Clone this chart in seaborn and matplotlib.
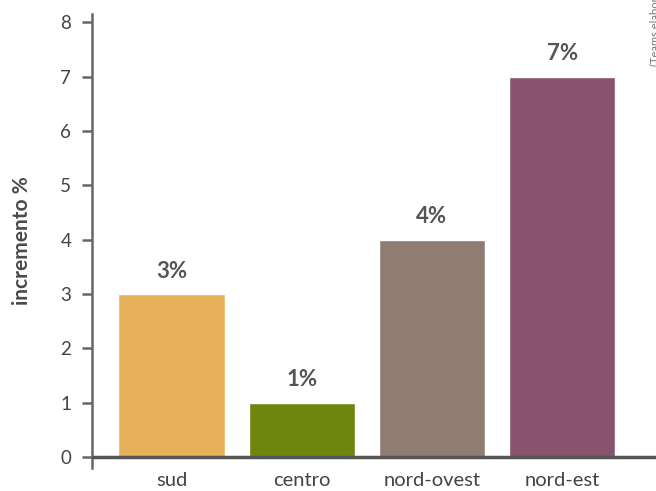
import matplotlib
matplotlib.use("Agg")
import matplotlib.pyplot as plt
import seaborn as sns
import pandas as pd

categories = ["sud", "centro", "nord-ovest", "nord-est"]
values = [3, 1, 4, 7]
labels = ["3%", "1%", "4%", "7%"]
colors = ["#E8B05A", "#6E860E", "#8F7D74", "#87536F"]
yticks = [0, 1, 2, 3, 4, 5, 6, 7, 8]

sns.set_style("white")
plt.rcParams["font.family"] = ["Lato", "DejaVu Sans"]

df = pd.DataFrame({"regione": categories, "incremento": values})

fig = plt.figure(figsize=(6.56, 4.91), dpi=100)
ax = fig.add_axes([92/656, 1 - 468/491, 1 - 92/656, (468 - 14)/491])

sns.barplot(data=df, x="regione", y="incremento", hue="regione",
            palette=colors, legend=False, width=0.815, saturation=1, ax=ax)

ax.set_xlim(-0.61, 3.72)
ax.set_ylim(-0.2, 8.15)
ax.set_yticks(yticks)
ax.set_yticklabels([str(t) for t in yticks], fontsize=13.5, color="#444444")
ax.tick_params(axis="y", length=7, width=1.8, color="#666666", pad=8, left=True)
ax.tick_params(axis="x", length=0, pad=3, labelsize=14.5, labelcolor="#444444")

for s in ["top", "right", "bottom"]:
    ax.spines[s].set_visible(False)
ax.spines["left"].set_color("#666666")
ax.spines["left"].set_linewidth(1.8)

ax.axhline(0, color="#555555", linewidth=2.5, zorder=5, xmin=0, xmax=1)

ax.set_xlabel("")
ax.set_ylabel("incremento %", fontsize=15, fontweight="bold", color="#4a4a4a", labelpad=20)

for i, (v, lab) in enumerate(zip(values, labels)):
    ax.annotate(lab, xy=(i, v), xytext=(0, 9), textcoords="offset points",
                ha="center", va="bottom", fontsize=16, fontweight="bold", color="#555555")

fig.text(649/656, 1 - 66/491, "(Teams elaborazione su dati)", rotation=90,
         ha="left", va="bottom", fontsize=8, color="#777777")

fig.savefig("out.png", dpi=100)
